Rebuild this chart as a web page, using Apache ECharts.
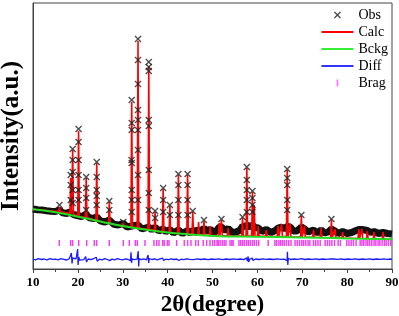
<!DOCTYPE html>
<html>
<head>
<meta charset="utf-8">
<script src="https://cdn.jsdelivr.net/npm/echarts@6/dist/echarts.min.js"></script>
<style>
  html, body { margin: 0; padding: 0; background: #fff; }
  #chart { width: 399px; height: 316px; }
</style>
</head>
<body>
<div id="chart"></div>
<script>
// background (Bckg) points: [2theta, intensity]
const bckg = [[10,597],[15,568],[20,523],[25,476],[30,430],[35,394],[40,364],[45,346],[50,331],[60,322],[70,316],[80,306],[90,297]]

// dense band of observed points along the background
const obsBand = [[10,600],[11,592],[12,590],[13,583],[14,578],[15,575],[15.9,590],[16.6,562],[17.5,555],[18.2,570],[19,545],[20.8,525],[21.8,545],[22.6,512],[23.5,505],[24.2,520],[25,482],[26,470],[27,490],[28,448],[29,440],[30.1,455],[31,420],[32,430],[33.4,440],[34.3,400],[35.8,420],[36.5,392],[37.2,420],[38,380],[39,400],[39.6,372],[40.5,395],[41.3,360],[42.4,390],[43.3,355],[44.45,385],[45.1,356],[45.6,390],[46.4,365],[46.9,400],[47.4,370],[48.1,410],[48.8,375],[49.5,400],[50.3,360],[51,390],[51.5,420],[52,420],[52.8,385],[53.5,405],[54.4,365],[55.3,370],[56.2,390],[56.7,430],[57.2,420],[57.65,440],[58.3,420],[58.9,440],[59.5,415],[60.2,410],[61,375],[62,395],[63,365],[64,385],[64.6,410],[65.4,420],[66,400],[66.65,425],[67.3,420],[68,380],[68.8,380],[69.8,420],[70.5,400],[71.3,370],[72.5,390],[73.4,360],[74.2,390],[75,360],[75.8,370],[76.5,400],[77.3,380],[78,355],[79,375],[80,355],[81,365],[82,385],[82.6,395],[83.3,395],[84.5,385],[85.3,365],[86,375],[87,355],[88,365],[89,355],[90,350]]

// calculated peaks: [2theta, top, base]
const calcPeaks = [[15.9,620,575],[18.4,910,555],[18.84,1190,550],[20.15,1380,525],[21.85,910,515],[24.2,1060,485],[27.0,670,455],[30.1,470,430],[32.0,1670,420],[33.4,2280,410],[35.8,2030,395],[37.2,570,385],[39.0,800,370],[40.5,630,365],[42.4,940,355],[44.45,940,350],[45.6,570,345],[46.9,470,340],[48.1,480,340],[49.5,430,335],[51.5,460,335],[52.0,490,335],[53.5,410,333],[56.7,510,330],[57.65,1010,330],[58.9,770,330],[59.3,640,330],[60.2,430,328],[62.0,390,326],[64.6,430,325],[65.4,450,325],[66.65,990,325],[67.3,450,322],[69.8,530,320],[70.5,430,320],[72.5,390,318],[74.2,410,315],[76.5,490,312],[77.3,400,312],[79.0,370,310],[82.6,400,305],[83.3,400,305],[84.5,380,303],[86.0,370,302],[88.0,370,300]]

// observed points on the peaks
const obsPeaks = [[15.9,640],[18.4,940],[18.4,840],[18.4,690],[18.84,1200],[18.84,1090],[18.84,970],[18.84,790],[18.84,660],
  [20.15,1400],[20.15,1270],[20.15,1090],[20.15,940],[20.15,790],[20.15,690],[21.85,920],[21.85,810],[21.85,710],[21.85,590],
  [24.2,1070],[24.2,920],[24.2,790],[24.2,730],[24.2,640],[27.0,680],[27.0,590],[30.1,470],
  [32.0,1690],[32.0,1460],[32.0,1390],[31.95,1090],[32.0,1060],[32.0,790],[32.0,690],[32.0,570],
  [33.4,2300],[33.4,2090],[33.4,1850],[33.4,1590],[33.4,1490],[33.4,1390],[33.4,1190],[33.4,940],[33.4,690],
  [35.8,2070],[35.8,2020],[35.8,1980],[35.8,1490],[35.8,1430],[35.8,990],[35.8,760],[35.8,590],
  [37.2,580],[37.2,510],[39.0,810],[39.0,690],[39.0,570],[40.5,640],[40.5,540],
  [42.4,950],[42.4,840],[42.4,690],[42.4,540],[44.45,950],[44.45,840],[44.45,690],[44.45,540],
  [45.6,580],[48.1,490],[52.0,500],[56.7,520],
  [57.65,1020],[57.65,890],[57.65,790],[57.65,690],[57.65,570],[58.9,780],[58.9,710],[58.9,640],[58.9,570],
  [66.65,1000],[66.65,910],[66.65,840],[66.65,690],[66.65,590],[69.8,540],[76.5,500]]

// difference curve
const diff = [[10,98],[10.6,92],[11.2,103],[11.9,95],[12.5,100],[13.1,91],[13.8,104],[14.4,96],[15,99],[15.6,92],[16.2,103],[16.9,97],[17.5,90],[18.1,104],[18.4,90],[18.55,160],[18.7,55],[18.85,110],[19.2,95],[19.6,102],[19.85,92],[19.95,200],[20.05,40],[20.2,120],[20.4,88],[20.8,100],[21.3,94],[21.75,125],[21.9,72],[22.3,100],[22.9,93],[23.5,103],[24.1,118],[24.3,78],[24.8,98],[25.4,91],[26,103],[26.6,95],[27,112],[27.1,84],[27.6,99],[28.2,92],[28.8,103],[29.4,96],[30,91],[30.6,102],[31.2,95],[31.7,82],[31.85,168],[31.95,62],[32.1,102],[32.6,93],[33.2,98],[33.38,88],[33.45,178],[33.55,25],[33.65,105],[34.1,94],[34.7,101],[35.3,92],[35.65,140],[35.78,60],[35.9,104],[36.5,95],[37.1,102],[37.7,92],[38.3,101],[38.9,108],[39.1,86],[39.6,98],[40.2,93],[40.8,102],[41.4,95],[42,100],[42.4,110],[42.5,85],[43,98],[43.6,93],[44.2,102],[44.45,112],[44.55,84],[45,97],[45.8,93],[46.6,101],[47.4,95],[48.2,100],[49,93],[49.8,100],[50.6,96],[51.4,101],[52.2,94],[53,100],[53.8,95],[54.6,101],[55.4,96],[56.2,100],[57,94],[57.6,112],[57.75,80],[57.95,125],[58.05,70],[58.3,98],[58.9,108],[59,86],[59.6,100],[60.4,95],[61.2,101],[62,96],[62.8,100],[63.6,95],[64.4,101],[65.2,96],[66,99],[66.62,82],[66.7,172],[66.78,40],[66.9,108],[67.4,95],[68.2,100],[69,96],[69.8,104],[70.6,95],[71.4,100],[72.2,96],[73,101],[73.8,95],[74.6,100],[75.4,96],[76.2,101],[76.6,92],[77,100],[77.8,96],[78.6,101],[79.4,95],[80.2,100],[81,96],[81.8,101],[82.6,95],[83.4,100],[84.2,96],[85,101],[85.8,95],[86.6,100],[87.4,96],[88.2,101],[89,96],[89.6,100],[90,97]]

// Bragg reflection positions
const braggPos = [15.86,18.40,18.84,20.18,21.96,23.66,24.19,27.0,30.12,31.46,32.80,33.24,34.96,36.96,37.57,38.07,38.90,39.26,39.93,40.30,42.02,43.71,44.46,45.2,46.25,46.83,47.94,48.70,49.44,50.04,
  50.5,51.0,51.3,51.7,52.2,52.6,53.0,53.9,54.3,54.6,55.9,56.3,56.7,57.1,57.6,58.0,58.4,58.9,59.3,59.8,60.3,62.4,63.9,64.3,64.8,65.2,65.6,66.0,66.5,67.0,67.5,
  68.4,68.9,69.4,69.9,70.3,70.8,71.3,71.7,72.5,73.0,73.5,74.0,75.1,75.6,76.1,76.6,77.2,78.0,78.5,79.9,80.4,80.9,81.4,82.0,
  82.9,83.3,83.7,84.2,84.6,85.0,85.5,86.0,86.4,86.9,87.3,87.8,88.3,88.7,89.2,89.7]
const braggLevel = 260

const xTicks = { min: 10, max: 90, interval: 10 }

const serif = "'Times New Roman', 'Liberation Serif', serif"
const xPath = 'path://M0,0.14L0.14,0L0.5,0.36L0.86,0L1,0.14L0.64,0.5L1,0.86L0.86,1L0.5,0.64L0.14,1L0,0.86L0.36,0.5Z'
const barIcon = 'path://M0,0h16v1h-16z'

// calc curve from the peak table
const calcLine = [bckg[0]]
calcPeaks.forEach(([p, top, base]) => {
  calcLine.push([p - 0.18, base], [p, top], [p + 0.18, base])
})
calcLine.push(bckg[bckg.length - 1])

const chart = echarts.init(document.getElementById('chart'))
chart.setOption({
  animation: false,
  grid: { left: 33, right: 7, top: 3, bottom: 47, show: true, borderColor: '#444', borderWidth: 1, outerBoundsMode: 'none', containLabel: false },
  legend: {
    orient: 'vertical',
    right: 6,
    top: 3,
    itemWidth: 32,
    itemHeight: 7,
    itemGap: 3,
    symbolKeepAspect: true,
    textStyle: { fontFamily: serif, fontSize: 14, color: '#000' },
    data: [
      { name: 'Obs', icon: xPath, itemStyle: { color: '#222' } },
      { name: 'Calc', icon: barIcon, itemStyle: { color: '#ff0000' } },
      { name: 'Bckg', icon: barIcon, itemStyle: { color: '#33ee33' } },
      { name: 'Diff', icon: barIcon, itemStyle: { color: '#3333ff' } },
      { name: 'Brag', icon: 'path://M0,0h1v4h-1z', itemStyle: { color: '#ff55ff' } }
    ]
  },
  xAxis: {
    type: 'value',
    min: xTicks.min,
    max: xTicks.max,
    interval: xTicks.interval,
    name: '2θ(degree)',
    nameLocation: 'middle',
    nameGap: 18,
    nameTextStyle: { fontFamily: serif, fontSize: 23, fontWeight: 'bold', color: '#000' },
    axisLine: { lineStyle: { color: '#444' } },
    axisTick: { length: 4, lineStyle: { color: '#444' } },
    minorTick: { show: true, splitNumber: 2, length: 3, lineStyle: { color: '#444' } },
    axisLabel: { margin: 7, fontFamily: serif, fontSize: 13, fontWeight: 'bold', color: '#000' },
    splitLine: { show: false }
  },
  yAxis: {
    type: 'value',
    min: 0,
    max: 2660,
    name: 'Intensity(a.u.)',
    nameLocation: 'middle',
    nameGap: 9,
    nameTextStyle: { fontFamily: serif, fontSize: 25, fontWeight: 'bold', color: '#000' },
    axisLine: { show: true, lineStyle: { color: '#444' } },
    axisTick: { show: false },
    axisLabel: { show: false },
    splitLine: { show: false }
  },
  series: [
    {
      name: 'band',
      type: 'line',
      data: obsBand,
      symbol: 'none',
      lineStyle: { color: '#111', width: 7 },
      z: 1
    },
    {
      name: 'Calc',
      type: 'line',
      data: calcLine,
      symbol: 'none',
      color: '#ff0000',
      lineStyle: { color: '#ff0000', width: 1.6 },
      z: 2
    },
    {
      name: 'Obs',
      type: 'scatter',
      data: obsPeaks,
      symbol: xPath,
      symbolSize: 7,
      itemStyle: { color: '#222' },
      z: 3
    },
    {
      name: 'Bckg',
      type: 'line',
      data: bckg,
      symbol: 'none',
      smooth: true,
      color: '#22ee22',
      lineStyle: { color: '#22dd22', width: 2 },
      z: 4
    },
    {
      name: 'Diff',
      type: 'line',
      data: diff,
      symbol: 'none',
      color: '#2222ff',
      lineStyle: { color: '#1a1aff', width: 1.3 },
      z: 4
    },
    {
      name: 'Brag',
      type: 'scatter',
      data: braggPos.map(p => [p, braggLevel]),
      symbol: 'rect',
      symbolSize: [1.5, 6],
      itemStyle: { color: '#ee11ee' },
      z: 4
    }
  ]
})
</script>
</body>
</html>
